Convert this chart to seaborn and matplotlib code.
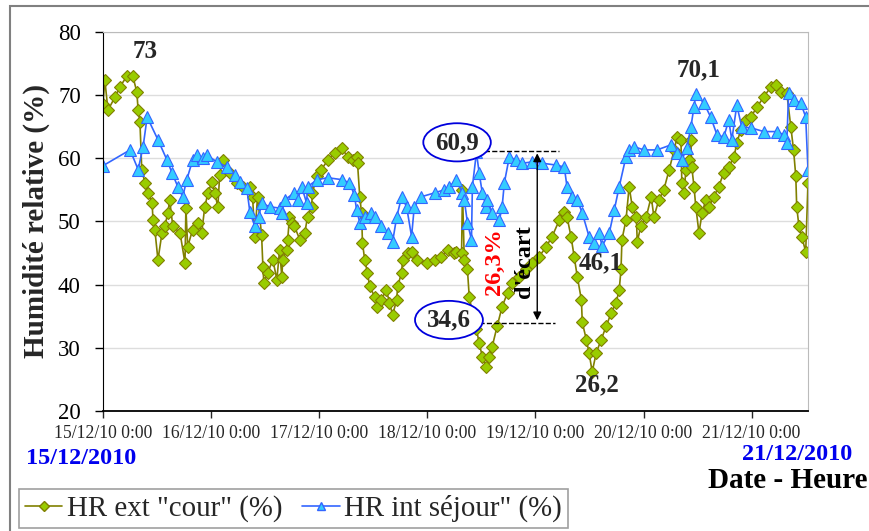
import matplotlib
matplotlib.use('Agg')
import matplotlib.pyplot as plt
import seaborn as sns
import pandas as pd
from matplotlib.patches import Rectangle
from matplotlib.lines import Line2D

# Heures depuis le 15/12/2010 0:00 et humidité relative (%)
heures_ext = [0.0, 0.4, 1.1, 2.7, 3.8, 5.3, 6.6, 7.5, 7.8, 8.2, 8.6, 9.3, 10.0, 10.9, 11.1, 11.5,
              12.2, 13.1, 13.7, 14.4, 14.8, 15.5, 17.1, 18.2, 18.4, 18.8, 19.9, 21.1, 21.9, 22.6,
              23.3, 24.2, 24.8, 25.5, 25.9, 26.6, 28.1, 29.7, 31.0, 32.6, 33.2, 33.7, 34.3, 35.2,
              35.5, 35.7, 36.6, 37.7, 38.6, 39.2, 39.7, 39.9, 40.8, 41.0, 41.4, 41.9, 42.5, 43.7,
              44.8, 45.4, 46.3, 46.5, 47.4, 48.5, 49.9, 51.4, 53.0, 54.3, 55.4, 56.3, 56.5, 57.0,
              57.4, 57.6, 58.1, 58.7, 59.2, 60.3, 60.9, 61.8, 62.9, 63.6, 64.3, 65.2, 65.4, 66.3,
              66.5, 67.6, 68.7, 69.8, 72.0, 73.6, 75.1, 76.5, 78.0, 78.4, 79.6, 79.8, 80.2, 80.9,
              81.3, 82.0, 82.9, 83.5, 84.2, 85.1, 85.8, 86.4, 87.5, 88.6, 89.8, 90.9, 92.4, 94.0,
              95.3, 96.8, 98.4, 99.7, 101.3, 102.4, 103.0, 103.9, 104.6, 105.3, 106.2, 106.4,
              107.3, 107.9, 108.6, 109.5, 110.6, 111.7, 112.8, 113.9, 114.6, 115.0, 115.2, 116.1,
              116.8, 117.5, 118.4, 118.6, 119.4, 120.6, 121.7, 122.3, 123.4, 124.5, 125.7, 126.8,
              127.4, 128.3, 128.5, 129.0, 129.4, 130.1, 130.5, 130.7, 131.2, 131.6, 132.3, 133.0,
              133.8, 134.5, 135.6, 136.7, 137.8, 138.9, 140.1, 140.7, 141.6, 142.7, 143.8, 145.2,
              146.7, 148.3, 149.4, 150.5, 151.8, 152.7, 153.3, 153.8, 154.0, 154.5, 155.1, 156.0,
              156.5]
hr_ext = [68.5, 72.4, 67.6, 69.7, 71.3, 73.0, 73.0, 70.5, 67.6, 65.7, 58.2, 56.1, 54.5, 52.9, 50.2, 48.7,
          43.9, 48.2, 49.2, 51.3, 53.4, 49.2, 48.2, 43.4, 52.1, 46.0, 48.7, 49.8, 48.2, 52.3,
          54.5, 56.3, 54.5, 52.3, 57.4, 59.7, 57.7, 56.1, 55.5, 55.5, 53.9, 47.6, 53.9, 47.9,
          42.8, 40.3, 41.9, 43.9, 40.8, 45.5, 41.2, 43.9, 45.5, 47.1, 50.7, 49.8, 49.2, 47.1,
          48.2, 50.7, 52.3, 54.5, 57.1, 58.2, 59.7, 60.8, 61.6, 60.2, 59.7, 60.2, 59.2, 53.9,
          51.3, 46.6, 43.9, 41.9, 39.7, 38.1, 36.5, 37.6, 39.2, 37.1, 35.2, 37.6, 39.7, 41.9,
          43.9, 45.0, 45.2, 43.9, 43.4, 43.9, 44.4, 45.5, 45.0, 45.2, 45.0, 55.0, 43.9, 42.4,
          38.1, 35.5, 32.9, 30.8, 28.6, 27.0, 28.6, 30.2, 33.4, 36.5, 38.7, 40.3, 41.2, 42.4,
          43.4, 44.4, 46.0, 47.6, 50.2, 51.5, 50.7, 47.6, 44.4, 41.2, 37.6, 34.0,
          31.3, 29.2, 26.2, 29.2, 31.3, 33.4, 35.5, 37.1, 39.2, 42.4, 47.1, 50.2,
          55.5, 52.3, 50.7, 46.8, 49.2, 50.7, 53.9, 50.7, 53.4, 55.0, 58.2, 61.3,
          63.3, 62.9, 56.1, 54.5, 58.2, 59.7, 62.9, 58.6, 55.5, 52.3, 48.2, 51.3,
          53.4, 52.3, 53.9, 55.5, 57.7, 58.6, 60.2, 62.4, 64.5, 66.0, 66.5, 68.1,
          69.7, 71.3, 71.6, 70.5, 70.3, 64.9, 61.3, 57.1, 52.3, 49.2, 47.6, 45.2,
          56.1]

heures_int = [0.0, 6.0, 7.8, 8.9, 9.8, 12.2, 14.2, 15.3, 16.6, 17.7, 18.6, 19.9, 20.8, 22.2, 23.0,
              25.3, 27.5, 29.3, 30.4, 31.9, 32.6, 33.7, 34.6, 35.2, 37.0, 39.2, 39.7, 40.3, 42.5,
              43.2, 44.1, 45.2, 45.4, 47.6, 49.9, 53.0, 54.7, 55.8, 56.3, 57.0, 58.1, 59.6, 60.3,
              61.8, 63.2, 64.3, 65.2, 66.3, 67.4, 68.5, 69.1, 70.7, 73.6, 75.8, 76.9, 78.4, 79.8,
              80.2, 80.9, 81.8, 82.0, 82.9, 83.5, 84.2, 85.1, 85.3, 86.4, 88.0, 88.6, 89.1, 90.2,
              91.7, 93.1, 95.3, 97.5, 100.6, 102.4, 103.0, 104.2, 105.3, 106.4, 107.9, 109.0,
              110.1, 110.8, 112.4, 113.5, 114.6, 116.1, 116.8, 117.9, 120.1, 123.0, 126.1, 127.4,
              128.5, 129.6, 130.5, 131.2, 131.6, 133.4, 134.9, 136.3, 137.8, 138.9, 139.6, 140.7,
              141.8, 143.8, 146.7, 149.6, 151.1, 151.8, 152.2, 153.3, 154.9, 156.0, 156.5]
hr_int = [58.8, 61.3, 58.2, 61.8, 66.5, 62.9, 59.7, 57.7, 55.5, 53.9, 56.6, 59.7, 60.5, 60.0, 60.5,
          59.4, 58.6, 57.4, 56.3, 55.3, 51.5, 49.2, 50.7, 52.9, 52.3, 52.1, 51.3, 53.4, 54.5,
          53.4, 55.5, 52.9, 55.5, 56.6, 56.9, 56.6, 56.1, 54.2, 51.8, 49.8, 50.7, 51.3, 50.7,
          49.2, 48.2, 46.8, 50.7, 53.9, 52.3, 47.6, 52.3, 53.9, 54.5, 55.0, 55.5, 56.5, 54.5,
          53.4, 49.8, 47.1, 55.5, 60.9, 57.7, 54.5, 52.3, 53.4, 51.3, 50.2, 52.3, 56.1, 60.2,
          59.7, 59.2, 59.4, 59.2, 58.9, 58.6, 55.5, 53.9, 53.4, 51.3, 47.6, 46.6,
          48.2, 46.1, 48.2, 51.8, 55.5, 60.2, 61.3, 61.8, 61.3, 61.3, 62.1, 60.8,
          59.7, 61.6, 64.9, 68.1, 70.1, 68.7, 66.5, 63.7, 63.3, 66.0, 62.9, 68.4,
          64.9, 64.8, 64.2, 64.2, 63.7, 62.4, 70.3, 69.2, 68.7, 66.5, 58.2]

ticks_h = [0, 24, 48, 72, 96, 120, 144]
ticks_lbl = ['15/12/10 0:00', '16/12/10 0:00', '17/12/10 0:00', '18/12/10 0:00',
             '19/12/10 0:00', '20/12/10 0:00', '21/12/10 0:00']
lbl_ext = 'HR ext "cour" (%)'
lbl_int = 'HR int séjour" (%)'

df_ext = pd.DataFrame({'h': heures_ext, 'hr': hr_ext})
df_int = pd.DataFrame({'h': heures_int, 'hr': hr_int})

sns.set_style('white')
plt.rcParams['font.family'] = ['Liberation Serif', 'DejaVu Serif']

fig = plt.figure(figsize=(8.7, 5.31), dpi=100)
ax = fig.add_axes([0.1184, 0.226, 0.8103, 0.7143])

# cadre gris autour du graphique
fig.patches.append(Rectangle((10 / 870, -0.05), 1.1, 1 - 6 / 531 + 0.05, transform=fig.transFigure,
                             fill=False, ec='#808080', lw=1.5, zorder=0))

vert_ligne = '#808000'
vert_marq = '#99CC00'
bleu_ligne = '#3366FF'
bleu_marq = '#33CCFF'

sns.lineplot(data=df_ext, x='h', y='hr', ax=ax, color=vert_ligne, lw=1.2, marker='D', markersize=6,
             markerfacecolor=vert_marq, markeredgecolor=vert_ligne, markeredgewidth=0.8, sort=False)
sns.lineplot(data=df_int, x='h', y='hr', ax=ax, color=bleu_ligne, lw=1.2, marker='^', markersize=8,
             markerfacecolor=bleu_marq, markeredgecolor=bleu_ligne, markeredgewidth=0.8, sort=False)

ax.set_xlim(0, 156.5)
ax.set_ylim(20, 80)
ax.set_yticks(range(20, 81, 10))
ax.set_xticks(ticks_h)
ax.set_xticklabels(ticks_lbl, fontsize=12.7)
ax.tick_params(axis='y', labelsize=16.5, direction='out', length=6, width=1, colors='black',
               left=True, pad=10)
ax.tick_params(axis='x', direction='out', length=5, width=1, bottom=True, pad=5)
ax.grid(axis='y', color='#DDDDDD', lw=1)
ax.set_axisbelow(True)
ax.spines['left'].set_color('black')
ax.spines['bottom'].set_color('black')
ax.spines['bottom'].set_linewidth(1.3)
ax.spines['top'].set_color('#BBBBBB')
ax.spines['right'].set_color('#BBBBBB')
ax.set_xlabel('')
ax.set_ylabel('Humidité relative (%)', fontsize=21, fontweight='bold', labelpad=6)

# annotations
bold = dict(fontsize=18, fontweight='bold', ha='center', va='center')
ax.text(9.3, 76.8, '73', **bold)
ax.text(132.3, 73.9, '70,1', **bold)
ax.text(110.4, 43.4, '46,1', **bold)
ax.text(109.7, 24.2, '26,2', **bold)
ell = dict(boxstyle='ellipse,pad=0.08', fc='white', ec='#0000DD', lw=1.3)
ax.text(78.6, 62.5, '60,9', bbox=ell, **bold)
ax.text(76.8, 34.4, '34,6', bbox=ell, **bold)
ax.plot([83.1, 101.3], [61.2, 61.2], ls='--', color='black', lw=1)
ax.plot([83.5, 100.4], [33.9, 33.9], ls='--', color='black', lw=1)
ax.annotate('', xy=(96.4, 61.2), xytext=(96.4, 33.9),
            arrowprops=dict(arrowstyle='<|-|>', color='black', lw=1, mutation_scale=12))
ax.text(87.0, 43.6, '26,3%', rotation=90, color='red', fontsize=17.5, fontweight='bold',
        ha='center', va='center')
ax.text(93.5, 43.6, "d'écart", rotation=90, color='black', fontsize=17.5, fontweight='bold',
        ha='center', va='center')

fig.text(81 / 870, 1 - 458 / 531, '15/12/2010', color='#0000EE', fontsize=17.5, fontweight='bold',
         ha='center', va='center')
fig.text(797 / 870, 1 - 455 / 531, '21/12/2010', color='#0000EE', fontsize=17.5, fontweight='bold',
         ha='center', va='center')
fig.text(868 / 870, 1 - 481 / 531, 'Date - Heure', color='black', fontsize=21, fontweight='bold',
         ha='right', va='center')

handles = [Line2D([], [], color=vert_ligne, marker='D', markersize=5, markerfacecolor=vert_marq,
                  markeredgecolor=vert_ligne, lw=1.2),
           Line2D([], [], color=bleu_ligne, marker='^', markersize=6, markerfacecolor=bleu_marq,
                  markeredgecolor=bleu_ligne, lw=1.2)]
leg = fig.legend(handles, [lbl_ext, lbl_int], loc='lower left', bbox_to_anchor=(19 / 870, 3 / 531),
                 ncol=2, fontsize=20.8, frameon=True, fancybox=False, edgecolor='#888888',
                 handlelength=1.3, handletextpad=0.15, columnspacing=0.7, borderpad=0.2,
                 borderaxespad=0)
leg.get_frame().set_linewidth(1.2)

fig.savefig('out.png', dpi=100)
